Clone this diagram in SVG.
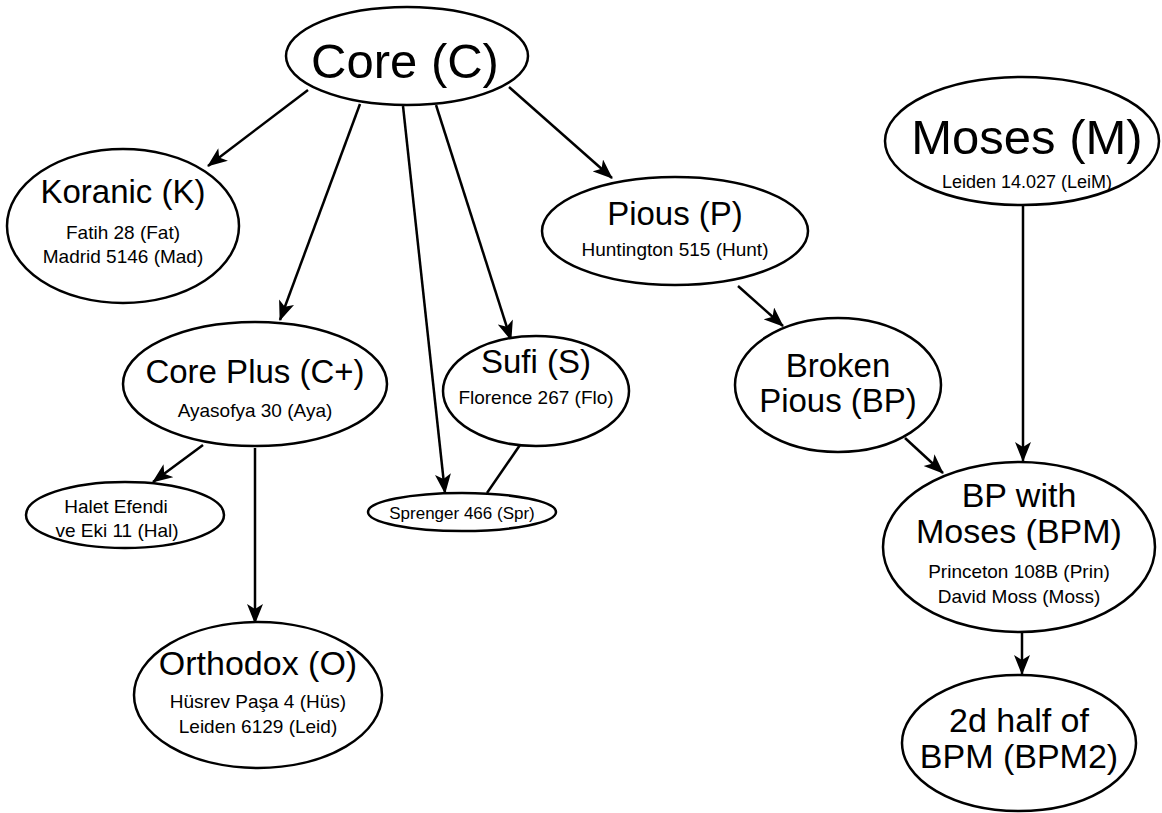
<svg xmlns="http://www.w3.org/2000/svg" width="1162" height="813" viewBox="0 0 1162 813">
<style>
.n ellipse{fill:#fff;stroke:#000;stroke-width:2.5}
text{font-family:"Liberation Sans",Arial,sans-serif;fill:#000;text-anchor:middle}
.t{font-size:33px}
.s{font-size:19px}
.e line{stroke:#000;stroke-width:2.5}
</style>
<defs>
<marker id="ah" viewBox="0 0 20 16" refX="19" refY="8" markerWidth="21" markerHeight="16" markerUnits="userSpaceOnUse" orient="auto">
<path d="M0,0 L20,8 L0,16 L5,8 Z" fill="#000"/>
</marker>
</defs>
<rect width="1162" height="813" fill="#fff"/>
<g class="e" id="edges">
<line x1="308" y1="90" x2="208" y2="166" marker-end="url(#ah)"/>
<line x1="360" y1="104" x2="280" y2="320" marker-end="url(#ah)"/>
<line x1="403" y1="106" x2="445" y2="493" marker-end="url(#ah)"/>
<line x1="436" y1="105" x2="511" y2="340" marker-end="url(#ah)"/>
<line x1="509" y1="87" x2="612" y2="178" marker-end="url(#ah)"/>
<line x1="520" y1="445" x2="487" y2="493"/>
<line x1="203" y1="445" x2="153" y2="482" marker-end="url(#ah)"/>
<line x1="255" y1="448" x2="255" y2="623" marker-end="url(#ah)"/>
<line x1="738" y1="286" x2="783" y2="326" marker-end="url(#ah)"/>
<line x1="905" y1="438" x2="943" y2="473" marker-end="url(#ah)"/>
<line x1="1023" y1="205" x2="1023" y2="461" marker-end="url(#ah)"/>
<line x1="1022" y1="632" x2="1022" y2="674" marker-end="url(#ah)"/>
</g>
<g class="n" id="core">
<ellipse cx="407" cy="56" rx="121" ry="49"/>
<text x="405" y="78" style="font-size:49px">Core (C)</text>
</g>
<g class="n" id="koranic">
<ellipse cx="123" cy="226" rx="116" ry="77"/>
<text class="t" x="123" y="203">Koranic (K)</text>
<text class="s" x="123" y="239">Fatih 28 (Fat)</text>
<text class="s" x="123" y="263">Madrid 5146 (Mad)</text>
</g>
<g class="n" id="coreplus">
<ellipse cx="255" cy="384" rx="132" ry="62"/>
<text class="t" x="255" y="383">Core Plus (C+)</text>
<text class="s" x="255" y="417">Ayasofya 30 (Aya)</text>
</g>
<g class="n" id="halet">
<ellipse cx="125" cy="515" rx="99" ry="33"/>
<text class="s" x="116" y="513">Halet Efendi</text>
<text class="s" x="117" y="537">ve Eki 11 (Hal)</text>
</g>
<g class="n" id="orthodox">
<ellipse cx="258" cy="695" rx="124" ry="73"/>
<text class="t" x="258" y="675" style="font-size:34px">Orthodox (O)</text>
<text class="s" x="258" y="708">Hüsrev Paşa 4 (Hüs)</text>
<text class="s" x="258" y="733">Leiden 6129 (Leid)</text>
</g>
<g class="n" id="sufi">
<ellipse cx="536" cy="391" rx="93" ry="55"/>
<text class="t" x="536" y="373">Sufi (S)</text>
<text class="s" x="536" y="404">Florence 267 (Flo)</text>
</g>
<g class="n" id="sprenger">
<ellipse cx="462" cy="512" rx="94" ry="19"/>
<text class="s" x="462" y="519" style="font-size:17px">Sprenger 466 (Spr)</text>
</g>
<g class="n" id="pious">
<ellipse cx="675" cy="231" rx="133" ry="54"/>
<text class="t" x="675" y="225">Pious (P)</text>
<text class="s" x="675" y="256">Huntington 515 (Hunt)</text>
</g>
<g class="n" id="brokenpious">
<ellipse cx="838" cy="385" rx="103" ry="67"/>
<text class="t" x="838" y="377">Broken</text>
<text class="t" x="838" y="412">Pious (BP)</text>
</g>
<g class="n" id="moses">
<ellipse cx="1022" cy="141" rx="137" ry="64"/>
<text x="1027" y="154" style="font-size:49px">Moses (M)</text>
<text class="s" x="1027" y="188" style="font-size:18px">Leiden 14.027 (LeiM)</text>
</g>
<g class="n" id="bpm">
<ellipse cx="1019" cy="547" rx="136" ry="85"/>
<text class="t" x="1019" y="507" style="font-size:34px">BP with</text>
<text class="t" x="1019" y="543" style="font-size:34px">Moses (BPM)</text>
<text class="s" x="1019" y="578">Princeton 108B (Prin)</text>
<text class="s" x="1019" y="603">David Moss (Moss)</text>
</g>
<g class="n" id="bpm2">
<ellipse cx="1019" cy="743" rx="117" ry="68"/>
<text class="t" x="1019" y="732" style="font-size:34px">2d half of</text>
<text class="t" x="1019" y="768" style="font-size:34px">BPM (BPM2)</text>
</g>
</svg>
